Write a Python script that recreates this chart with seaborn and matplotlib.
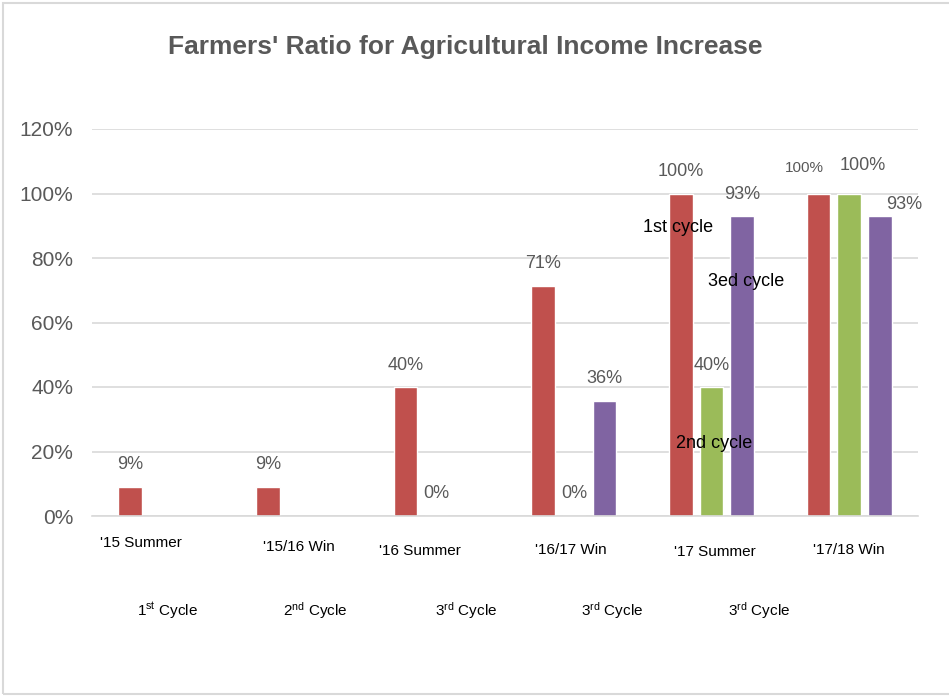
import numpy as np
import pandas as pd
import matplotlib
matplotlib.use("Agg")
import matplotlib.pyplot as plt
import matplotlib.transforms as mtransforms
from matplotlib.patches import Rectangle
import seaborn as sns

# ---- data ----
seasons = ["'15 Summer", "'15/16 Win", "'16 Summer", "'16/17 Win", "'17 Summer", "'17/18 Win"]
series_names = ["1st cycle", "2nd cycle", "3ed cycle"]
cycle1 = [0.09, 0.09, 0.40, 0.714, 1.00, 1.00]
cycle2 = [np.nan, np.nan, 0.0, 0.0, 0.40, 1.00]
cycle3 = [np.nan, np.nan, np.nan, 0.357, 0.929, 0.929]
cycle_notes = [r"1$^{\mathrm{st}}$ Cycle", r"2$^{\mathrm{nd}}$ Cycle", r"3$^{\mathrm{rd}}$ Cycle",
               r"3$^{\mathrm{rd}}$ Cycle", r"3$^{\mathrm{rd}}$ Cycle"]
title = "Farmers' Ratio for Agricultural Income Increase"
colors = ["#C0504D", "#9BBB59", "#8064A2"]

df = pd.DataFrame({
    "season": seasons * 3,
    "series": sum([[s] * len(seasons) for s in series_names], []),
    "value": cycle1 + cycle2 + cycle3,
})

sns.set_theme(style="white")
plt.rcParams["font.family"] = ["Liberation Sans", "DejaVu Sans"]
plt.rcParams["mathtext.fontset"] = "custom"
plt.rcParams["mathtext.rm"] = "Liberation Sans"
plt.rcParams["mathtext.it"] = "Liberation Sans:italic"
plt.rcParams["mathtext.bf"] = "Liberation Sans:bold"

fig = plt.figure(figsize=(9.49, 6.97), dpi=100)
W, H = 949, 697
ax = fig.add_axes([92 / W, (H - 516) / H, (918 - 92) / W, (516 - 129) / H])

sns.barplot(data=df, x="season", y="value", hue="series", order=seasons,
            hue_order=series_names, palette=colors, width=0.67, gap=0.23,
            ax=ax, legend=False, saturation=1, errorbar=None)

ax.set_ylim(0, 1.2)
ax.set_xlim(-0.5, len(seasons) - 0.5)
yt = np.arange(0, 1.21, 0.2)
ax.set_yticks(yt)
ax.set_yticklabels([f"{int(round(t*100))}%" for t in yt], fontsize=15, color="#595959")
ax.yaxis.grid(True, color="#D9D9D9", linewidth=1.2)
ax.set_axisbelow(True)
for s in ["top", "right", "left"]:
    ax.spines[s].set_visible(False)
ax.spines["bottom"].set_color("#D9D9D9")
ax.spines["bottom"].set_linewidth(1.2)
ax.tick_params(axis="both", length=0)
ax.tick_params(axis="y", pad=13.5)
ax.set_xlabel("")
ax.set_ylabel("")

# x tick labels with small individual offsets (pixels)
ax.set_xticks(range(len(seasons)))
ax.set_xticklabels(seasons, fontsize=11, color="black")
ax.tick_params(axis="x", pad=19)
dx = [-20, 0, -16, -3, 3, 0]
dy = [6, 2, -2, -1, -3, -1]
for lab, ddx, ddy in zip(ax.get_xticklabels(), dx, dy):
    off = mtransforms.ScaledTranslation(ddx / 100, ddy / 100, fig.dpi_scale_trans)
    lab.set_transform(lab.get_transform() + off)

# data labels
special = {  # (series index, category index): (dx px, dy px, fontsize)
    (0, 5): (-14, 4, 11),
    (1, 5): (14, 6, 13),
    (2, 5): (24, -10, 13),
}
data = [cycle1, cycle2, cycle3]
for si, cont in enumerate(ax.containers):
    for bar in cont:
        x = bar.get_x() + bar.get_width() / 2
        ci = int(round(x))
        v = data[si][ci]
        if v is None or np.isnan(v):
            continue
        ddx, ddy, fs = special.get((si, ci), (0, 0, 13))
        ax.annotate(f"{v:.0%}", (x, v), xytext=(ddx * 0.72, (22 + ddy) * 0.72),
                    textcoords="offset points", ha="center", va="center",
                    fontsize=fs, color="#595959")

# series name labels inside the plot
for name, (px, py) in zip(series_names, [(678, 228), (714, 443), (746, 282)]):
    fig.text(px / W, 1 - py / H, name, ha="center", va="center", fontsize=13, color="black")

# cycle notes below
for note, px in zip(cycle_notes, [168, 315, 466, 612, 759]):
    fig.text(px / W, 1 - 611 / H, note, ha="center", va="center", fontsize=11, color="black")

fig.text(465 / W, 1 - 47 / H, title, ha="center", va="center", fontsize=19,
         fontweight="bold", color="#595959")

fig.patches.append(Rectangle((3 / W, 3 / H), 1.0, 1 - 6 / H, transform=fig.transFigure,
                             fill=False, edgecolor="#D9D9D9", linewidth=1.5))

fig.savefig("out.png", dpi=100)
